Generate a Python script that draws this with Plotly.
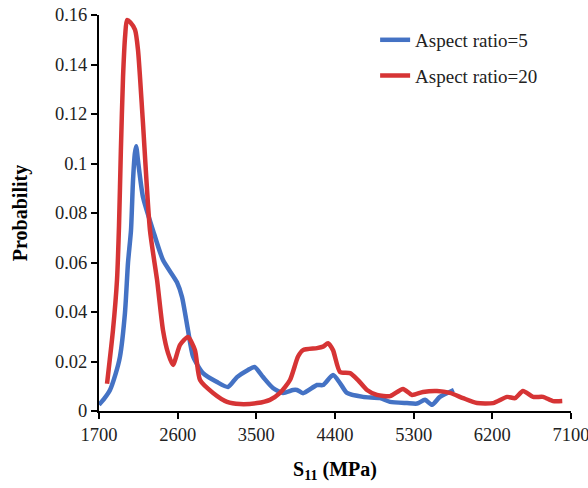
import plotly.graph_objects as go

# Aspect ratio = 5 (blue)
ar5_x = [1700, 1760, 1826, 1890, 1940, 1997, 2032, 2066, 2089, 2110, 2125, 2150, 2203, 2318, 2432, 2592, 2650, 2718, 2776,
         2890, 3050, 3176, 3279, 3400, 3480, 3577, 3690, 3805, 3920, 3965, 4034, 4194, 4263, 4377, 4457,
         4537, 4720, 4915, 5030, 5224, 5338, 5430, 5510, 5600, 5760]
ar5_y = [0.0025, 0.005, 0.0085, 0.015, 0.022, 0.0396, 0.060, 0.073, 0.093, 0.104, 0.107, 0.100, 0.0865, 0.073, 0.061, 0.052, 0.046, 0.0327, 0.022,
         0.0153, 0.0117, 0.0097, 0.0137, 0.0165, 0.0178, 0.0137, 0.0093, 0.0073, 0.0085, 0.0085, 0.0072, 0.0105, 0.0105, 0.0145, 0.0113,
         0.0073, 0.0057, 0.0052, 0.0037, 0.0032, 0.0030, 0.0045, 0.0025, 0.0057, 0.0085]

# Aspect ratio = 20 (red)
ar20_x = [1792, 1860, 1906, 1929, 1950, 1975, 2000, 2020, 2060, 2112, 2146, 2200, 2283, 2364, 2432, 2490, 2547, 2627, 2718,
          2798, 2856, 3005, 3165, 3313, 3508, 3656, 3771, 3885, 3977, 4034, 4194, 4263, 4320, 4377,
          4457, 4572, 4663, 4766, 4880, 5030, 5178, 5281, 5407, 5567, 5716, 5865, 6025, 6208, 6368,
          6460, 6551, 6666, 6780, 6895, 7000]
ar20_y = [0.011, 0.0327, 0.053, 0.075, 0.105, 0.135, 0.152, 0.158, 0.157, 0.154, 0.146, 0.118, 0.073, 0.053, 0.0327, 0.0234, 0.0186, 0.0267, 0.0299,
          0.0246, 0.0125, 0.0073, 0.0037, 0.0028, 0.0032, 0.0045, 0.0073, 0.0125, 0.022, 0.0246, 0.0254, 0.026, 0.0274, 0.0246,
          0.0158, 0.0153, 0.0125, 0.0085, 0.0065, 0.006, 0.0089, 0.0065, 0.0077, 0.0081, 0.0073, 0.0052, 0.0032, 0.0032, 0.0057,
          0.0052, 0.0081, 0.0057, 0.0057, 0.004, 0.004]

x_ticks = [1700, 2600, 3500, 4400, 5300, 6200, 7100]
y_ticks = [0, 0.02, 0.04, 0.06, 0.08, 0.1, 0.12, 0.14, 0.16]
y_tick_text = ["0", "0.02", "0.04", "0.06", "0.08", "0.1", "0.12", "0.14", "0.16"]

font_family = "Liberation Serif, Times New Roman, serif"

fig = go.Figure()
fig.add_trace(go.Scatter(x=ar5_x, y=ar5_y, mode="lines", name="Aspect ratio=5", showlegend=True,
                         line=dict(color="#4472C4", width=4.5, shape="spline", smoothing=0.6),
                         legend="legend"))
fig.add_trace(go.Scatter(x=ar20_x, y=ar20_y, mode="lines", name="Aspect ratio=20", showlegend=True,
                         line=dict(color="#D63435", width=4.5, shape="spline", smoothing=0.6),
                         legend="legend2"))

axis_common = dict(showline=True, linecolor="black", linewidth=2, ticks="outside", automargin=False,
                   ticklen=6, tickwidth=2, tickcolor="black", showgrid=False, zeroline=False,
                   ticklabeloverflow="allow",
                   tickfont=dict(family=font_family, size=18.5, color="#222"))

leg_font = dict(family=font_family, size=19, color="#222")

fig.update_layout(
    width=588, height=488,
    margin=dict(l=99, r=17, t=15, b=77),
    plot_bgcolor="white", paper_bgcolor="white",
    font=dict(family=font_family, size=19, color="black"),
    showlegend=True,
    xaxis=dict(range=[1700, 7100], tickvals=x_ticks, ticktext=[str(v) for v in x_ticks],
               title=dict(text="<b>S<sub>11</sub> (MPa)</b>", font=dict(family=font_family, size=20), standoff=18),
               **axis_common),
    yaxis=dict(range=[0, 0.16], tickvals=y_ticks, ticktext=y_tick_text,
               title=dict(text="<b>Probability</b>", font=dict(family=font_family, size=20), standoff=22),
               **axis_common),
    legend=dict(x=0.585, y=0.985, xanchor="left", yanchor="top", bgcolor="rgba(0,0,0,0)", font=leg_font),
    legend2=dict(x=0.585, y=0.895, xanchor="left", yanchor="top", bgcolor="rgba(0,0,0,0)", font=leg_font),
)

fig.write_html("out.html", config={"displayModeBar": False},
               post_script="document.body.style.margin='0';document.body.style.overflow='hidden';")
